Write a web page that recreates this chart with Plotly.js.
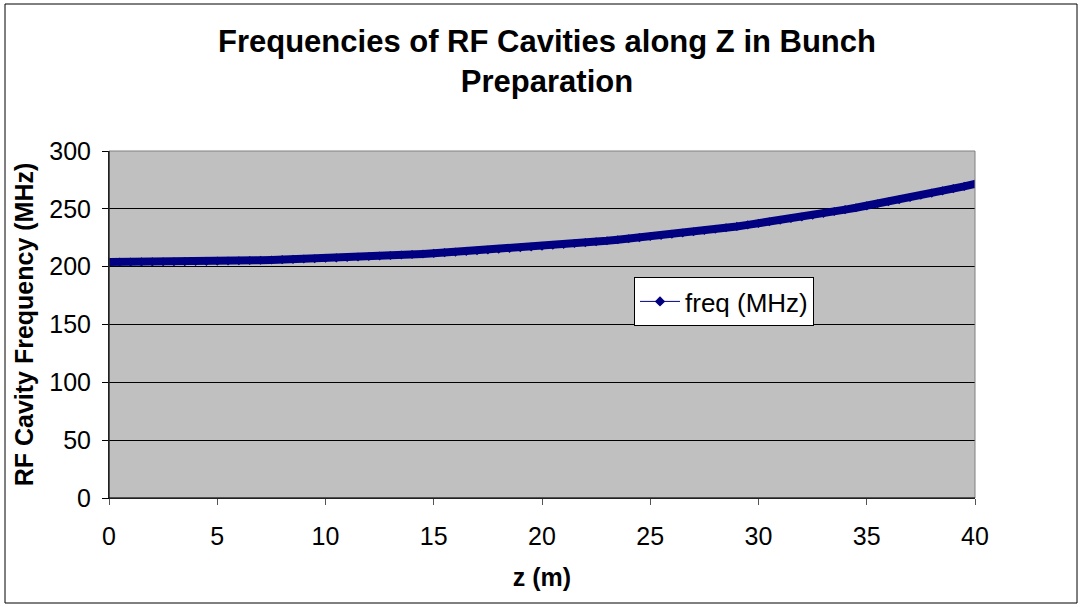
<!DOCTYPE html>
<html>
<head>
<meta charset="utf-8">
<script src="https://cdn.plot.ly/plotly-3.0.1.min.js"></script>
<style>
html,body{margin:0;padding:0;background:#fff;}
#chart{width:1081px;height:607px;}
</style>
</head>
<body>
<div id="chart"></div>
<script>
// position along Z (m)
const zPositions = [
  0,0.5,1,1.5,2,2.5,3,3.5,4,4.5,5,5.5,6,6.5,7,7.5,8,8.5,9,9.5,
  10,10.5,11,11.5,12,12.5,13,13.5,14,14.5,15,15.5,16,16.5,17,17.5,18,18.5,19,19.5,
  20,20.5,21,21.5,22,22.5,23,23.5,24,24.5,25,25.5,26,26.5,27,27.5,28,28.5,29,29.5,
  30,30.5,31,31.5,32,32.5,33,33.5,34,34.5,35,35.5,36,36.5,37,37.5,38,38.5,39,39.5,40
];
// RF cavity frequency (MHz)
const freqMHz = [
  204.0,204.0,204.05,204.1,204.15,204.2,204.3,204.4,204.5,204.6,
  204.8,204.9,205.1,205.3,205.55,205.8,206.05,206.3,206.6,206.9,
  207.25,207.6,207.95,208.4,208.75,209.2,209.6,210.1,210.5,211.0,
  211.5,212.1,212.6,213.2,213.75,214.4,215.0,215.7,216.3,217.0,
  217.7,218.5,219.2,220.0,220.8,221.6,222.4,223.3,224.2,225.1,
  226.1,227.0,228.05,229.1,230.2,231.3,232.4,233.6,234.8,236.1,
  237.4,238.8,240.1,241.6,243.0,244.5,246.1,247.7,249.3,250.9,
  252.6,254.4,256.1,257.9,259.8,261.7,263.6,265.5,267.5,269.4,
  271.5
];
const seriesName = 'freq (MHz)';
const xTicks = [0,5,10,15,20,25,30,35,40];
const yTicks = [0,50,100,150,200,250,300];

const navy = '#000080';
const font = 'Liberation Sans, Arial, sans-serif';

const traces = [
  {
    x: zPositions, y: freqMHz, type: 'scatter', mode: 'lines+markers',
    line: {color: navy, width: 8},
    marker: {symbol: 'diamond', size: 7, color: navy},
    showlegend: false, hoverinfo: 'x+y'
  },
  {
    x: [null], y: [null], type: 'scatter', mode: 'lines+markers',
    name: seriesName,
    line: {color: navy, width: 1},
    marker: {symbol: 'diamond', size: 8, color: navy}
  }
];

const L = 109, R = 106, T = 151, B = 109;
const W = 1081, H = 607;
const pw = W - L - R, ph = H - T - B;
function px(x){return (x - L)/pw;}
function py(y){return (H - B - y)/ph;}

const layout = {
  width: W, height: H,
  margin: {l: L, r: R, t: T, b: B, pad: 0},
  paper_bgcolor: '#ffffff',
  plot_bgcolor: '#c0c0c0',
  font: {family: font, color: '#000', size: 25},
  title: {
    text: '<b>Frequencies of RF Cavities along Z in Bunch<br>Preparation</b>',
    xref: 'container', yref: 'container',
    x: 547/W, xanchor: 'center', y: 1 - 52/H, yanchor: 'middle',
    font: {family: font, size: 31, color: '#000'}
  },
  xaxis: {
    range: [0, 40], tickvals: xTicks, ticktext: xTicks.map(String),
    showgrid: false, zeroline: false,
    showline: true, linecolor: '#000', linewidth: 1,
    ticks: 'outside', ticklen: 6, tickcolor: '#555', tickwidth: 1,
    ticklabelstandoff: 10,
    tickfont: {family: font, size: 25, color: '#000'},
    title: {text: '<b>z (m)</b>', font: {family: font, size: 25, color: '#000'}, standoff: 19},
    mirror: false
  },
  yaxis: {
    range: [0, 300], tickvals: yTicks, ticktext: yTicks.map(String),
    showgrid: true, gridcolor: '#000', gridwidth: 1, zeroline: false,
    showline: true, linecolor: '#000', linewidth: 1,
    ticks: 'outside', ticklen: 6, tickcolor: '#000', tickwidth: 1,
    ticklabelstandoff: 6,
    tickfont: {family: font, size: 25, color: '#000'},
    title: {text: '<b>RF Cavity Frequency (MHz)</b>', font: {family: font, size: 25, color: '#000'}, standoff: 8}
  },
  legend: {
    x: px(634), y: py(277), xanchor: 'left', yanchor: 'top',
    bgcolor: '#ffffff', bordercolor: '#000', borderwidth: 1,
    font: {family: font, size: 26, color: '#000'},
    itemwidth: 40, tracegroupgap: 0
  },
  shapes: [
    {type: 'rect', xref: 'paper', yref: 'paper', x0: 0, x1: 1, y0: 0, y1: 1,
     line: {color: '#808080', width: 1}, fillcolor: 'rgba(0,0,0,0)', layer: 'above'},
    {type: 'line', xref: 'paper', yref: 'paper', x0: 0, x1: 0, y0: 0, y1: 1,
     line: {color: '#000', width: 1}, layer: 'above'},
    {type: 'line', xref: 'paper', yref: 'paper', x0: 0, x1: 1, y0: 0, y1: 0,
     line: {color: '#000', width: 1}, layer: 'above'},
    {type: 'rect', xref: 'paper', yref: 'paper', x0: px(5), x1: px(1077), y0: py(603), y1: py(4),
     line: {color: '#000', width: 1}, fillcolor: 'rgba(0,0,0,0)'}
  ],
  showlegend: true
};

Plotly.newPlot('chart', traces, layout, {displayModeBar: false, staticPlot: true});
</script>
</body>
</html>
